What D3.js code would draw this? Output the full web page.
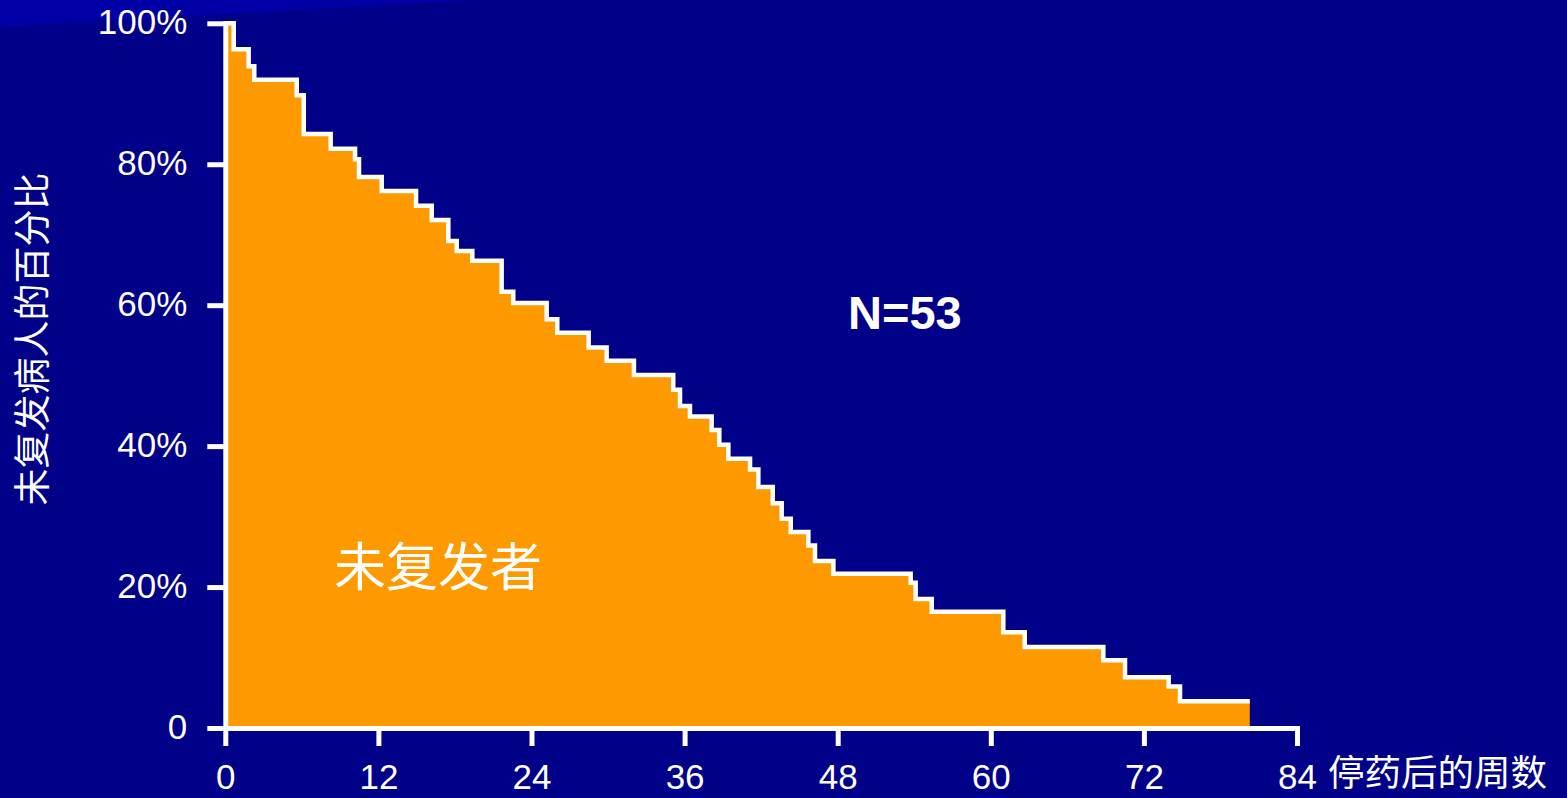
<!DOCTYPE html>
<html>
<head>
<meta charset="utf-8">
<script src="https://cdn.jsdelivr.net/npm/d3@7"></script>
<style>
  html, body { margin: 0; padding: 0; background: #000088; }
  svg { display: block; }
  .num { font-family: "Liberation Sans", Arial, sans-serif; }
  .cjk { font-family: "Noto Sans CJK SC", sans-serif; }
</style>
</head>
<body>
<svg id="chart" width="1567" height="798"></svg>
<script>
// Kaplan–Meier curve: weeks after stopping treatment at which a relapse occurred,
// and the percentage still relapse-free just after each of those weeks.
const relapseWeeks = [0.66, 1.83, 2.27, 5.60, 6.15, 8.26, 10.17, 10.48, 12.26, 14.95,
  16.18, 17.48, 18.14, 19.36, 21.66, 22.57, 25.19, 26.02, 28.48, 29.89,
  32.03, 35.11, 35.64, 36.42, 38.12, 38.72, 39.43, 41.13, 41.78, 42.91,
  43.61, 44.32, 45.70, 46.22, 47.66, 53.72, 54.11, 55.37, 60.98, 62.66,
  68.82, 70.52, 73.94, 74.83];
const relapseFreePct = [96.3, 93.9, 92.0, 89.8, 84.3, 82.2, 80.7, 78.2, 76.2, 74.1,
  72.1, 69.1, 67.7, 66.3, 61.9, 60.3, 58.0, 56.1, 54.0, 52.1,
  50.1, 48.0, 45.7, 44.2, 42.3, 40.2, 38.2, 36.7, 34.2, 31.9,
  29.7, 27.8, 25.9, 23.7, 21.9, 20.6, 18.3, 16.5, 13.6, 11.5,
  9.6, 7.2, 5.9, 3.8];
const lastFollowUpWeek = 80.3;
const sampleSize = 53;

const xTicks = [0, 12, 24, 36, 48, 60, 72, 84];
const yTicks = [0, 20, 40, 60, 80, 100];
const yTickLabel = v => v === 0 ? "0" : v + "%";

const xTitle = "停药后的周数";
const yTitle = "未复发病人的百分比";
const areaLabel = "未复发者";

const svg = d3.select("#chart");
const W = 1567, H = 798;

// slide background with a lighter diagonal band at the top-left
svg.append("rect").attr("width", W).attr("height", H).attr("fill", "#000088");
svg.append("polygon").attr("points", "0,0 472,0 0,27").attr("fill", "#0000A6");

const x = d3.scaleLinear().domain([0, 84]).range([225.3, 1297]);
const y = d3.scaleLinear().domain([0, 100]).range([728, 23.3]);

// step series
const pts = [[0, 100]];
relapseWeeks.forEach((w, i) => pts.push([w, relapseFreePct[i]]));
pts.push([lastFollowUpWeek, relapseFreePct[relapseFreePct.length - 1]]);

const area = d3.area()
  .curve(d3.curveStepAfter)
  .x(d => x(d[0]))
  .y0(y(0))
  .y1(d => y(d[1]));

const line = d3.line()
  .curve(d3.curveStepAfter)
  .x(d => x(d[0]))
  .y(d => y(d[1]));

svg.append("path").datum(pts).attr("d", area).attr("fill", "#FF9900");
svg.append("path").datum(pts).attr("d", line)
  .attr("fill", "none").attr("stroke", "#FFFFFF")
  .attr("stroke-width", 4.5).attr("stroke-linejoin", "miter");

// axes
const yAxis = d3.axisLeft(y).tickValues(yTicks).tickFormat(yTickLabel)
  .tickSizeInner(18).tickSizeOuter(0).tickPadding(20);
const xAxis = d3.axisBottom(x).tickValues(xTicks).tickFormat(d3.format("d"))
  .tickSizeInner(18).tickSizeOuter(0).tickPadding(18);

const gy = svg.append("g").call(yAxis);
const gx = svg.append("g").attr("transform", `translate(0,${y(0)})`).call(xAxis);

[gx, gy].forEach(g => {
  g.select(".domain").attr("stroke", "#FFFFFF").attr("stroke-width", 5)
    .attr("stroke-linecap", "square");
  g.selectAll(".tick line").attr("stroke", "#FFFFFF").attr("stroke-width", 5);
  g.selectAll(".tick text").attr("fill", "#FFFFFF")
    .attr("class", "num").style("font-size", "35px");
});
gy.attr("transform", `translate(${x(0)},0)`);
gy.selectAll(".tick text").attr("dy", "0.3em");

// axis titles
svg.append("text").attr("class", "cjk")
  .attr("transform", `translate(46,339) rotate(-90)`)
  .attr("text-anchor", "middle")
  .attr("fill", "#FFFFFF").style("font-size", "37px")
  .text(yTitle);

svg.append("text").attr("class", "cjk")
  .attr("x", 1328).attr("y", 786)
  .attr("fill", "#FFFFFF").style("font-size", "36.5px")
  .text(xTitle);

// annotations
svg.append("text").attr("class", "num")
  .attr("x", 848).attr("y", 329)
  .attr("fill", "#FFFFFF").style("font-size", "47px").style("font-weight", "bold")
  .text("N=" + sampleSize);

svg.append("text").attr("class", "cjk")
  .attr("x", 438).attr("y", 586)
  .attr("text-anchor", "middle")
  .attr("fill", "#FFFFFF").style("font-size", "52px")
  .text(areaLabel);
</script>
</body>
</html>
